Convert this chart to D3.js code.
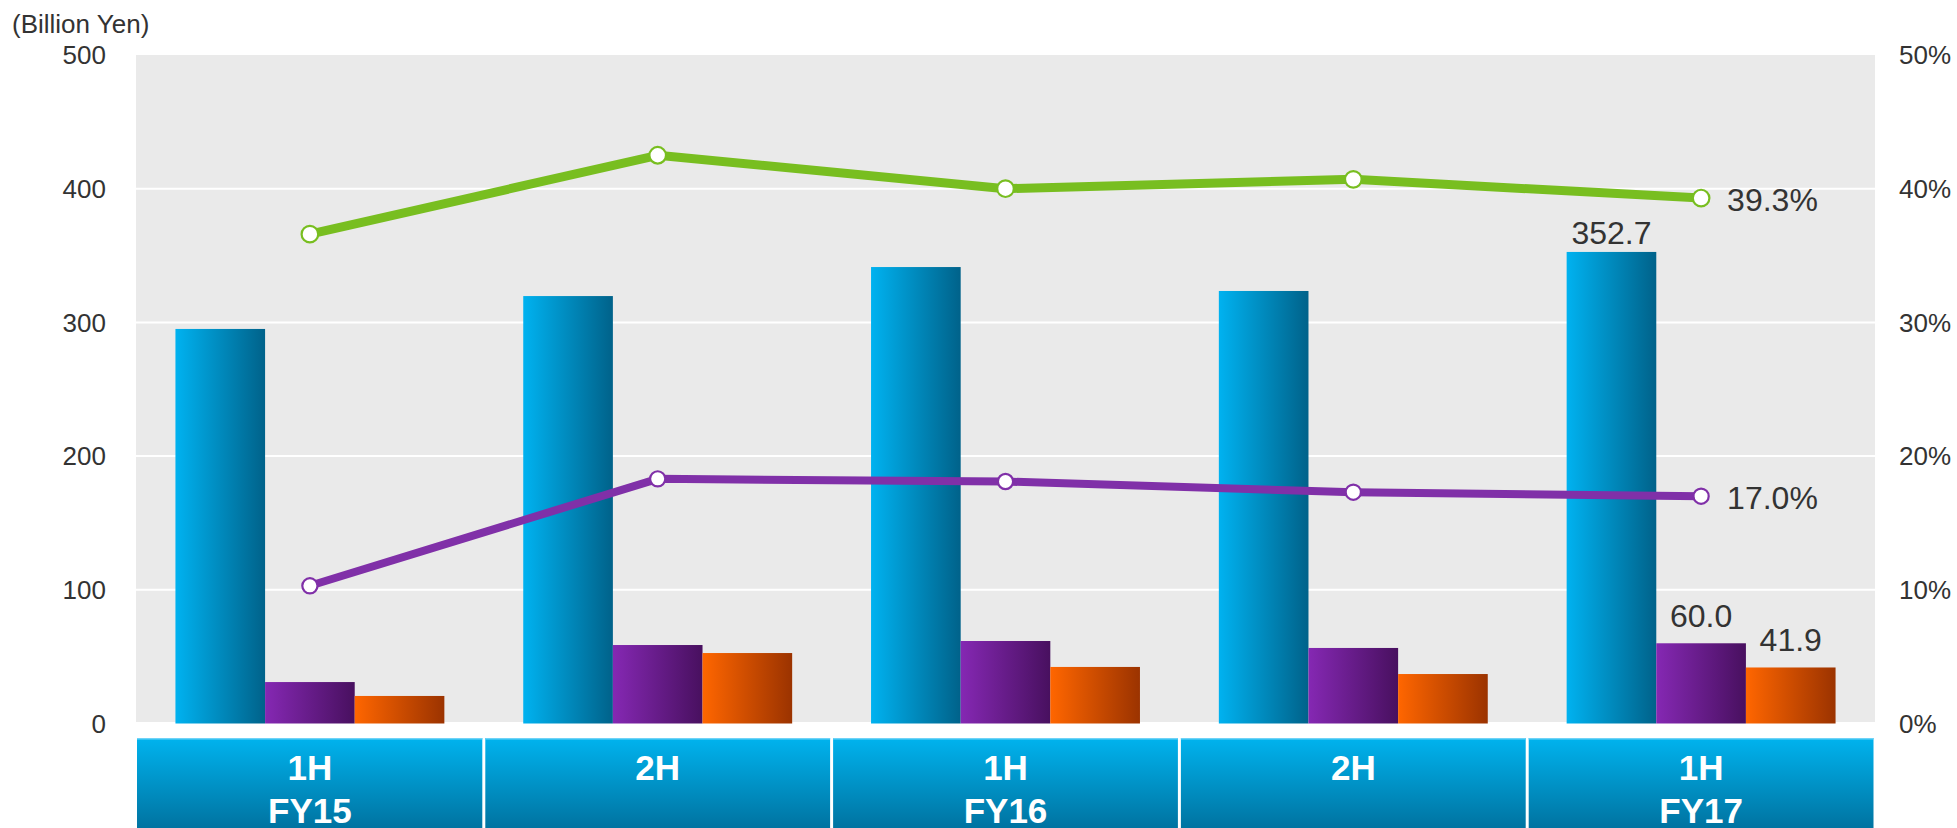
<!DOCTYPE html>
<html lang="en">
<head>
    <meta charset="UTF-8">
    <title>Half-year results</title>
    <script src="https://cdn.jsdelivr.net/npm/d3@7/dist/d3.min.js"></script>
    <style>
        body { margin: 0; background: #fff; }
        text { font-family: "Liberation Sans", Arial, sans-serif; }
    </style>
</head>
<body>
<script>
    // data
    var periods = ["1H", "2H", "1H", "2H", "1H"];
    var fiscalYears = ["FY15", "", "FY16", "", "FY17"];
    var barSeries = ["sales", "profitA", "profitB"];
    var salesValues = [295.1, 319.7, 341.4, 323.5, 352.7];
    var profitAValues = [31.0, 58.7, 61.7, 56.5, 60.0];
    var profitBValues = [20.6, 52.7, 42.3, 37.0, 41.9];
    var greenRatio = [36.6, 42.5, 40.0, 40.7, 39.3];
    var purpleRatio = [10.3, 18.3, 18.1, 17.3, 17.0];
    var leftTicks = [0, 100, 200, 300, 400, 500];
    var rightTicks = [0, 10, 20, 30, 40, 50];

    var width = 1957, height = 828;
    var plotLeft = 136, plotRight = 1875, plotTop = 55, plotBottom = 723.5;

    var svg = d3.select("body").append("svg")
        .attr("width", width)
        .attr("height", height);

    var defs = svg.append("defs");
    function addGrad(id, c1, c2, vertical) {
        var g = defs.append("linearGradient").attr("id", id)
            .attr("x1", 0).attr("y1", 0)
            .attr("x2", vertical ? 0 : 1).attr("y2", vertical ? 1 : 0);
        g.append("stop").attr("offset", "0%").attr("stop-color", c1);
        g.append("stop").attr("offset", "100%").attr("stop-color", c2);
    }
    addGrad("g-sales", "#00b2f0", "#00628a");
    addGrad("g-profitA", "#8528b3", "#48105f");
    addGrad("g-profitB", "#ff6600", "#9b3300");
    addGrad("g-box", "#00b3ee", "#006c98", true);

    var idx = d3.range(periods.length);

    var x0 = d3.scaleBand().domain(idx).range([plotLeft, plotRight]).padding(0);
    var x1 = d3.scaleBand().domain(barSeries).range([0, x0.bandwidth()])
        .paddingInner(0).paddingOuter(0.44);
    var y = d3.scaleLinear().domain([0, 500]).range([plotBottom, plotTop]);
    var yr = d3.scaleLinear().domain([0, 50]).range([plotBottom, plotTop]);

    // plot background
    svg.append("rect")
        .attr("x", plotLeft).attr("y", plotTop)
        .attr("width", plotRight - plotLeft).attr("height", plotBottom - plotTop - 1.5)
        .attr("fill", "#eaeaea");

    // gridlines
    svg.append("g").selectAll("line")
        .data(leftTicks.filter(d => d > 0 && d < 500))
        .enter().append("line")
        .attr("x1", plotLeft).attr("x2", plotRight)
        .attr("y1", d => y(d)).attr("y2", d => y(d))
        .attr("stroke", "#fff").attr("stroke-width", 2);

    // left axis labels
    svg.append("g").selectAll("text")
        .data(leftTicks)
        .enter().append("text")
        .attr("x", 106).attr("y", d => y(d))
        .attr("dy", "0.36em")
        .attr("text-anchor", "end")
        .attr("font-size", 26).attr("fill", "#333")
        .text(d => d);

    // right axis labels
    svg.append("g").selectAll("text")
        .data(rightTicks)
        .enter().append("text")
        .attr("x", 1899).attr("y", d => yr(d))
        .attr("dy", "0.36em")
        .attr("font-size", 26).attr("fill", "#333")
        .text(d => d + "%");

    svg.append("text")
        .attr("x", 12).attr("y", 33)
        .attr("font-size", 26).attr("fill", "#333")
        .text("(Billion Yen)");

    // bars
    var seriesValues = { sales: salesValues, profitA: profitAValues, profitB: profitBValues };
    barSeries.forEach(function (s) {
        svg.append("g").selectAll("rect")
            .data(idx)
            .enter().append("rect")
            .attr("x", i => x0(i) + x1(s))
            .attr("y", i => y(seriesValues[s][i]))
            .attr("width", x1.bandwidth())
            .attr("height", i => y(0) - y(seriesValues[s][i]))
            .attr("fill", "url(#g-" + s + ")");
    });

    // value labels on the last period
    var last = periods.length - 1;
    barSeries.forEach(function (s, k) {
        svg.append("text")
            .attr("x", x0(last) + x1(s) + x1.bandwidth() / 2)
            .attr("y", y(seriesValues[s][last]) - (k === 0 ? 8 : 16))
            .attr("text-anchor", "middle")
            .attr("font-size", 32).attr("fill", "#333")
            .text(seriesValues[s][last].toFixed(1));
    });

    // lines
    var cx = i => x0(i) + x0.bandwidth() / 2;
    function drawLine(vals, color, lw, r) {
        var line = d3.line().x((d, i) => cx(i)).y(d => yr(d));
        svg.append("path")
            .attr("d", line(vals))
            .attr("fill", "none")
            .attr("stroke", color)
            .attr("stroke-width", lw)
            .attr("stroke-linejoin", "round");
        svg.append("g").selectAll("circle")
            .data(vals)
            .enter().append("circle")
            .attr("cx", (d, i) => cx(i))
            .attr("cy", d => yr(d))
            .attr("r", r)
            .attr("fill", "#fff")
            .attr("stroke", color)
            .attr("stroke-width", 2.2);
        svg.append("text")
            .attr("x", cx(last) + 26)
            .attr("y", yr(vals[last]))
            .attr("dy", "0.4em")
            .attr("font-size", 32).attr("fill", "#333")
            .text(vals[last].toFixed(1) + "%");
    }
    drawLine(greenRatio, "#78be20", 9, 8.3);
    drawLine(purpleRatio, "#8030a8", 8, 7.6);

    // category boxes
    var boxes = svg.append("g").selectAll("g")
        .data(idx)
        .enter().append("g");
    boxes.append("rect")
        .attr("x", i => x0(i) + (i === 0 ? 1 : 1.5))
        .attr("y", 738)
        .attr("width", i => x0.bandwidth() - (i === 0 ? 2.5 : 3))
        .attr("height", 100)
        .attr("fill", "url(#g-box)");
    boxes.append("rect")
        .attr("x", i => x0(i) + (i === 0 ? 1 : 1.5))
        .attr("y", 738)
        .attr("width", i => x0.bandwidth() - (i === 0 ? 2.5 : 3))
        .attr("height", 1.5)
        .attr("fill", "#6fd3f7");
    boxes.append("text")
        .attr("x", i => cx(i)).attr("y", 780)
        .attr("text-anchor", "middle")
        .attr("font-size", 35).attr("font-weight", "bold").attr("fill", "#fff")
        .text(i => periods[i]);
    boxes.append("text")
        .attr("x", i => cx(i)).attr("y", 823)
        .attr("text-anchor", "middle")
        .attr("font-size", 35).attr("font-weight", "bold").attr("fill", "#fff")
        .text(i => fiscalYears[i]);
</script>
</body>
</html>
